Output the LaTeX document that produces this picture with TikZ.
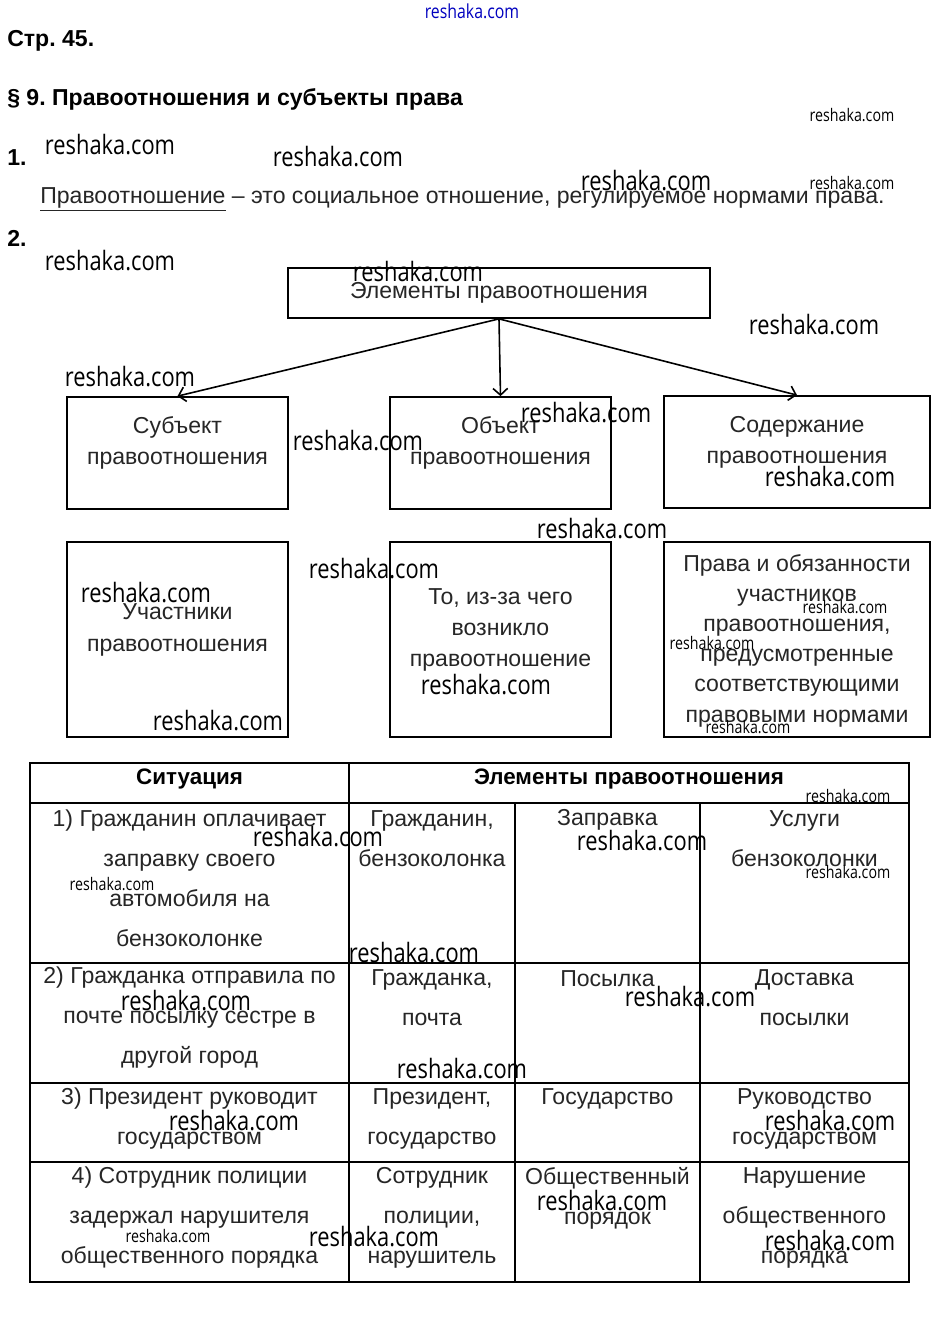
\documentclass[tikz,border=0pt]{standalone}
\usepackage{fontspec}
\setmainfont{Liberation Sans}
\newfontfamily\wmfont[FakeStretch=0.82]{Open Sans}
\usetikzlibrary{arrows.meta}
\frenchspacing
\begin{document}
\begin{tikzpicture}[x=0.75pt,y=-0.75pt,
 every node/.style={inner sep=0pt, text=black!85},
 box/.style={draw=black, line width=1.3pt, inner sep=0pt},
 body/.style={font=\fontsize{17.3}{23.5}\selectfont, align=center},
 tab/.style={font=\fontsize{17.3}{30}\selectfont, align=center},
 head/.style={font=\bfseries\fontsize{17.3}{20}\selectfont, anchor=west, text=black},
 thead/.style={font=\bfseries\fontsize{16.8}{20}\selectfont, text=black},
 wm/.style={font=\wmfont\fontsize{20}{20}\selectfont, text=black},
 wms/.style={font=\wmfont\fontsize{13}{13}\selectfont, text=black},
 arr/.style={line width=1.2pt, -{Straight Barb[length=5pt,width=11pt]}},
 grid/.style={line width=0.8pt}]
\useasboundingbox[fill=white] (0,0) rectangle (941,1328);

% headings
\node[head] (p) at (7,41) {Стр. 45.};
\node[head] (sec) at (7,99) {§ 9. Правоотношения и субъекты права};
\node[head] (n1) at (7,158) {1.};
\node[anchor=west, font=\fontsize{17.3}{20}\selectfont] (def) at (40,199) {\underline{Правоотношение} – это социальное отношение, регулируемое нормами права.};
\node[head] (n2) at (7,238) {2.};

% scheme
\node[box, minimum width=316.5pt, minimum height=37.5pt, body] (top) at (499,293) {Элементы правоотношения};
\node[box, minimum width=165.75pt, minimum height=84pt] (b1) at (177.5,453) {};
\node[box, minimum width=165.75pt, minimum height=84pt] (b2) at (500.5,453) {};
\node[box, minimum width=199.5pt, minimum height=84pt] (b3) at (797,452) {};
\node[box, minimum width=165.75pt, minimum height=146.25pt] (b4) at (177.5,639.5) {};
\node[box, minimum width=165.75pt, minimum height=146.25pt] (b5) at (500.5,639.5) {};
\node[box, minimum width=199.5pt, minimum height=146.25pt] (b6) at (797,639.5) {};

\node[body] (t1) at (177.5,443) {Субъект\\правоотношения};
\node[body] (t2) at (500.5,443) {Объект\\правоотношения};
\node[body] (t3) at (797,442) {Содержание\\правоотношения};
\node[body] (t4) at (177.5,630) {Участники\\правоотношения};
\node[body] (t5) at (500.5,630) {То, из-за чего\\возникло\\правоотношение};
\node[body, font=\fontsize{17.3}{22.65}\selectfont] (t6) at (797,640.5) {Права и обязанности\\участников\\правоотношения,\\предусмотренные\\соответствующими\\правовыми нормами};

\draw[arr] (top.south) -- (b1.north);
\draw[arr] (top.south) -- (b2.north);
\draw[arr] (top.south) -- (b3.north);

% table
\draw[grid] (30,763) rectangle (909,1282);
\foreach \yy in {803,963,1083,1162} \draw[grid] (30,\yy) -- (909,\yy);
\draw[grid] (349,763) -- (349,1282);
\draw[grid] (515,803) -- (515,1282);
\draw[grid] (700,803) -- (700,1282);

\node[thead] (h1) at (189.5,779) {Ситуация};
\node[thead] (h2) at (629,779) {Элементы правоотношения};

\node[tab] (r1a) at (189.5,878.5) {1) Гражданин оплачивает\\заправку своего\\автомобиля на\\бензоколонке};
\node[tab] (r1b) at (432,839) {Гражданин,\\бензоколонка};
\node[tab] (r1c) at (607.5,820) {Заправка};
\node[tab] (r1d) at (804.5,839) {Услуги\\бензоколонки};

\node[tab] (r2a) at (189.5,1018) {2) Гражданка отправила по\\почте посылку сестре в\\другой город};
\node[tab] (r2b) at (432,998) {Гражданка,\\почта};
\node[tab] (r2c) at (607.5,979) {Посылка};
\node[tab] (r2d) at (804.5,998) {Доставка\\посылки};

\node[tab] (r3a) at (189.5,1119) {3) Президент руководит\\государством};
\node[tab] (r3b) at (432,1119) {Президент,\\государство};
\node[tab] (r3c) at (607.5,1099) {Государство};
\node[tab] (r3d) at (804.5,1119) {Руководство\\государством};

\node[tab] (r4a) at (189.5,1217.5) {4) Сотрудник полиции\\задержал нарушителя\\общественного порядка};
\node[tab] (r4b) at (432,1217.5) {Сотрудник\\полиции,\\нарушитель};
\node[tab] (r4c) at (607.5,1198) {Общественный\\порядок};
\node[tab] (r4d) at (804.5,1217.5) {Нарушение\\общественного\\порядка};

% watermarks
\node[font=\wmfont\fontsize{14.5}{14.5}\selectfont, text=blue!75!black] (w0) at (472,11) {reshaka.com};
\foreach \wx/\wy [count=\i] in {110/145,338/157,646/181,110/261,418/272,814/325,130/377,358/441,586/413,830/477,602/529,374/569,146/593,486/685,218/721,318/837,642/841,414/953,186/1001,690/997,462/1069,234/1121,830/1121,602/1201,374/1237,830/1241}
  \node[wm] (w\i) at (\wx,\wy) {reshaka.com};
\foreach \wx/\wy [count=\i] in {852/115,852/183,845/607,712/643,748/727,848/796,848/872,112/884,168/1236}
  \node[wms] (ws\i) at (\wx,\wy) {reshaka.com};
\end{tikzpicture}
\end{document}
